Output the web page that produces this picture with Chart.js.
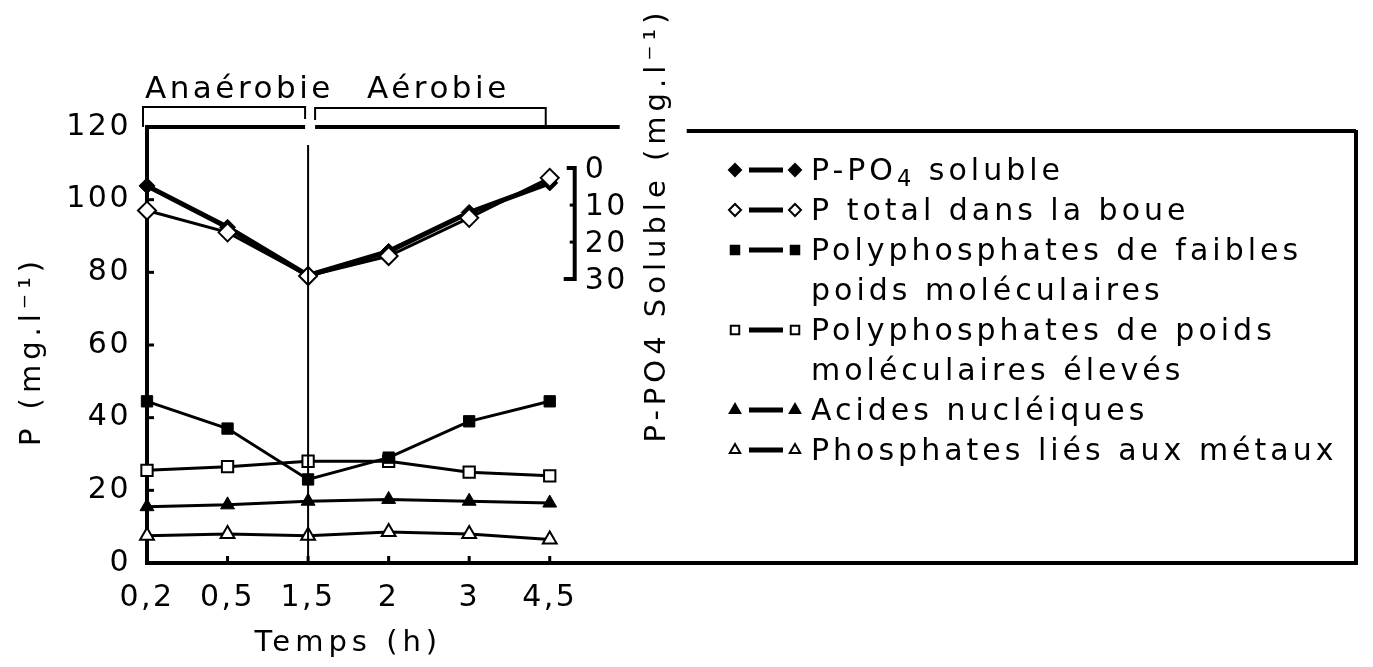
<!DOCTYPE html>
<html>
<head>
<meta charset="utf-8">
<script src="https://cdn.jsdelivr.net/npm/chart.js@4.4.1/dist/chart.umd.min.js"></script>
<style>
html,body{margin:0;padding:0;background:#fff;}
#wrap{width:1373px;height:667px;position:relative;}
</style>
</head>
<body>
<div id="wrap"><canvas id="mainChart"></canvas></div>
<script>

/* DATA */

const xLabels = ["0,2","0,5","1,5","2","3","4,5"];

// right axis (reversed, 0 at top)
const pSoluble = [4.8, 16, 29, 22.5, 12, 4];

const pTotal = [97, 91, 79, 84.5, 95, 106];
const polyFaibles = [44.5, 37, 23, 29, 39, 44.5];
const polyEleves = [25.5, 26.5, 28, 28, 25, 24];
const acides = [15.5, 16, 17, 17.5, 17, 16.5];
const metaux = [7.5, 8, 7.5, 8.5, 8, 6.5];

const yTicks = [0, 20, 40, 60, 80, 100, 120];
const y2Ticks = [0, 10, 20, 30];

const phases = ["Anaérobie", "Aérobie"];

// "_4" marks a subscript 4
const names = [
  ["P-PO_4 soluble"],
  ["P total dans la boue"],
  ["Polyphosphates de faibles", "poids moléculaires"],
  ["Polyphosphates de poids", "moléculaires élevés"],
  ["Acides nucléiques"],
  ["Phosphates liés aux métaux"]
];

/* STYLE */

const FONT = "'DejaVu Sans', sans-serif";

Chart.defaults.font.family = FONT;
Chart.defaults.font.size = 30;
Chart.defaults.color = "#000";

const pts = arr => arr.map((v, i) => ({x: i, y: v}));

function seg(ctx, x1, y1, x2, y2, w){
  ctx.lineWidth = w;
  ctx.beginPath();
  ctx.moveTo(x1, y1);
  ctx.lineTo(x2, y2);
  ctx.stroke();
}

function txt(ctx, s, size, ls, x, y){
  ctx.font = size + "px " + FONT;
  ctx.letterSpacing = ls + "px";
  ctx.fillText(s, x, y);
}

/* left-aligned text with optional subscript part */
function subTxt(ctx, s, size, ls, x, y){
  const parts = s.split("_");
  if(parts.length === 1){ txt(ctx, s, size, ls, x, y); return; }
  ctx.font = size + "px " + FONT;
  ctx.letterSpacing = ls + "px";
  ctx.fillText(parts[0], x, y);
  let cx = x + ctx.measureText(parts[0]).width;
  const sub = parts[1].charAt(0);
  const rest = parts[1].slice(1);
  txt(ctx, sub, size * 0.75, ls, cx, y + 8);
  cx += ctx.measureText(sub).width;
  txt(ctx, rest, size, ls, cx, y);
}

/* DECORATIONS + LEGEND */

const decor = {
  id: "decor",
  beforeLayout(chart){ chart.ctx.letterSpacing = "2.5px"; },
  beforeDraw(chart){ chart.ctx.letterSpacing = "2.5px"; },
  afterDraw(chart){
    const {ctx, chartArea: a, scales: {x, y, y2}} = chart;
    ctx.save();
    ctx.strokeStyle = "#000";
    ctx.fillStyle = "#000";
    ctx.lineCap = "butt";

    const xs = x.getPixelForValue(2);
    const xe = x.getPixelForValue(5);
    const xb = x.getPixelForValue(5.31);

    /* top frame line, split at 1,5 */
    seg(ctx, a.left - 2, a.top, xs - 3, a.top, 4);
    seg(ctx, xs + 7, a.top, xb + 45, a.top, 4);
    /* box round the legend */
    seg(ctx, xb + 112, a.top + 4, a.right, a.top + 4, 4);
    seg(ctx, a.right, a.top + 3, a.right, a.bottom + 2, 4);

    /* phase separator */
    seg(ctx, xs, a.top + 18, xs, a.bottom, 2);

    /* phase brackets */
    ctx.lineWidth = 2;
    ctx.beginPath();
    ctx.moveTo(a.left - 4, a.top);
    ctx.lineTo(a.left - 4, a.top - 20);
    ctx.lineTo(xs - 3, a.top - 20);
    ctx.lineTo(xs - 3, a.top - 8);
    ctx.moveTo(xs + 7, a.top - 7);
    ctx.lineTo(xs + 7, a.top - 19);
    ctx.lineTo(xe - 4, a.top - 19);
    ctx.lineTo(xe - 4, a.top - 2);
    ctx.stroke();

    ctx.textAlign = "left";
    ctx.textBaseline = "alphabetic";
    txt(ctx, phases[0], 31, 3.5, a.left - 2, a.top - 29);
    txt(ctx, phases[1], 31, 3.5, xs + 59, a.top - 29);

    /* inner ticks */
    yTicks.forEach(v => {
      const py = y.getPixelForValue(v);
      seg(ctx, a.left, py, a.left + 7, py, 3);
    });
    xLabels.forEach((l, i) => {
      const px = x.getPixelForValue(i);
      seg(ctx, px, a.bottom, px, a.bottom - 7, 3);
    });

    /* right scale bracket (P-PO4 soluble) */
    const t0 = y2.getPixelForValue(y2Ticks[0]);
    const t1 = y2.getPixelForValue(y2Ticks[y2Ticks.length - 1]);
    ctx.lineWidth = 4;
    ctx.beginPath();
    ctx.moveTo(xb - 8, t0);
    ctx.lineTo(xb, t0);
    ctx.lineTo(xb, t1);
    ctx.lineTo(xb - 11, t1);
    ctx.stroke();
    ctx.textBaseline = "middle";
    y2Ticks.forEach(v => {
      const py = y2.getPixelForValue(v);
      seg(ctx, xb - 5, py, xb, py, 3);
      txt(ctx, String(v), 30, 2.5, xb + 10, py + 2);
    });

    /* right title */
    ctx.save();
    ctx.translate(xb + 83, 225);
    ctx.rotate(-Math.PI / 2);
    ctx.textAlign = "center";
    txt(ctx, "P-PO4 Soluble (mg.l⁻¹)", 29, 5, 0, 0);
    ctx.restore();

    /* left title */
    ctx.save();
    ctx.translate(32, (a.top + a.bottom) / 2 + 6);
    ctx.rotate(-Math.PI / 2);
    ctx.textAlign = "center";
    txt(ctx, "P (mg.l⁻¹)", 29, 5, 0, 0);
    ctx.restore();

    /* x title */
    ctx.textAlign = "center";
    txt(ctx, "Temps (h)", 29, 5, x.getPixelForValue(2.5), a.bottom + 80);

    /* legend */
    const lx = 735;
    let ly = 170;
    ctx.textAlign = "left";
    chart.data.datasets.forEach((ds, i) => {
      ctx.strokeStyle = "#000";
      seg(ctx, lx + 14, ly, lx + 48, ly, 5);
      [lx, lx + 60].forEach(px => {
        ctx.fillStyle = ds.pointBackgroundColor;
        ctx.strokeStyle = "#000";
        ctx.lineWidth = 2;
        Chart.helpers.drawPoint(ctx, {pointStyle: ds.pointStyle, radius: 6, rotation: 0, borderWidth: 2}, px, ly);
      });
      ctx.fillStyle = "#000";
      names[i].forEach(t => {
        subTxt(ctx, t, 30, 4, lx + 76, ly + 2);
        ly += 40;
      });
    });

    ctx.restore();
  }
};

/* CHART */

const ctx = document.getElementById("mainChart");

const chart = new Chart(ctx, {
  type: "line",
  data: {
    datasets: [
      {
        label: names[0].join(" "),
        data: pts(pSoluble),
        yAxisID: "y2",
        borderColor: "#000",
        borderWidth: 5,
        pointStyle: "rectRot",
        pointRadius: 8,
        pointBackgroundColor: "#000",
        pointBorderColor: "#000",
        pointBorderWidth: 1,
        clip: false
      },
      {
        label: names[1].join(" "),
        data: pts(pTotal),
        order: -1,
        borderColor: "#000",
        borderWidth: 3,
        pointStyle: "rectRot",
        pointRadius: 9,
        pointBackgroundColor: "#fff",
        pointBorderColor: "#000",
        pointBorderWidth: 2,
        clip: false
      },
      {
        label: names[2].join(" "),
        data: pts(polyFaibles),
        borderColor: "#000",
        borderWidth: 3,
        pointStyle: "rect",
        pointRadius: 8,
        pointBackgroundColor: "#000",
        pointBorderColor: "#000",
        pointBorderWidth: 1,
        clip: false
      },
      {
        label: names[3].join(" "),
        data: pts(polyEleves),
        borderColor: "#000",
        borderWidth: 3,
        pointStyle: "rect",
        pointRadius: 8,
        pointBackgroundColor: "#fff",
        pointBorderColor: "#000",
        pointBorderWidth: 2,
        clip: false
      },
      {
        label: names[4].join(" "),
        data: pts(acides),
        borderColor: "#000",
        borderWidth: 3,
        pointStyle: "triangle",
        pointRadius: 8,
        pointBackgroundColor: "#000",
        pointBorderColor: "#000",
        pointBorderWidth: 1,
        clip: false
      },
      {
        label: names[5].join(" "),
        data: pts(metaux),
        borderColor: "#000",
        borderWidth: 3,
        pointStyle: "triangle",
        pointRadius: 8,
        pointBackgroundColor: "#fff",
        pointBorderColor: "#000",
        pointBorderWidth: 2,
        clip: false
      }
    ]
  },
  options: {
    responsive: true,
    maintainAspectRatio: false,
    animation: false,
    events: [],
    layout: {padding: {top: 127, right: 10, left: 0, bottom: 0}},
    plugins: {
      legend: {display: false},
      tooltip: {enabled: false}
    },
    scales: {
      x: {
        type: "linear",
        min: 0,
        max: 15.01,
        grid: {display: false, drawTicks: false},
        border: {display: true, width: 4, color: "#000"},
        ticks: {
          stepSize: 1,
          autoSkip: false,
          maxRotation: 0,
          padding: 17,
          callback: v => xLabels[v] ?? ""
        },
        afterFit: s => { s.height = 104; }
      },
      y: {
        min: 0,
        max: 120,
        grid: {display: false, drawTicks: false},
        border: {display: true, width: 4, color: "#000"},
        ticks: {stepSize: 20, padding: 16},
        afterFit: s => { s.width = 147; }
      },
      y2: {
        display: false,
        reverse: true,
        min: -11.1,
        max: 106.7
      }
    }
  },
  plugins: [decor]
});

</script>
</body>
</html>
